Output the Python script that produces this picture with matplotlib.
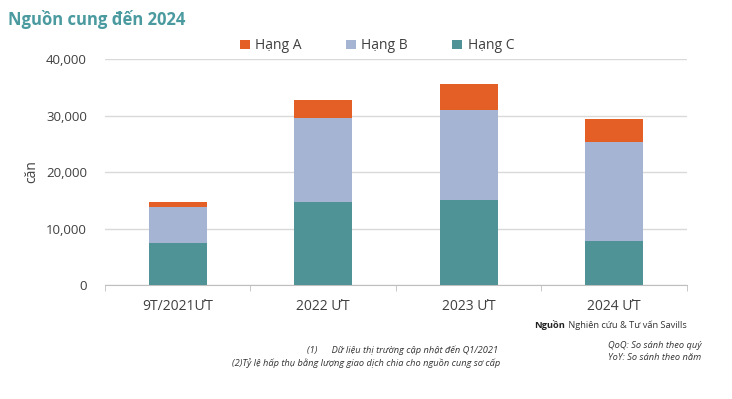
import matplotlib.pyplot as plt
import numpy as np

plt.rcParams['font.family'] = ['Open Sans', 'DejaVu Sans']

# data
categories = ["9T/2021ƯT", "2022 ƯT", "2023 ƯT", "2024 ƯT"]
hang_c = [7500, 14700, 15000, 7800]
hang_b = [6300, 14800, 15900, 17500]
hang_a = [900, 3200, 4600, 4100]
y_ticks = [0, 10000, 20000, 30000, 40000]

col_a = "#E35F26"
col_b = "#A4B4D2"
col_c = "#4F9396"
txt = "#404040"

fig = plt.figure(figsize=(7.32, 3.99), dpi=100)
ax = fig.add_axes([0.1434, 0.2857, 0.795, 0.5663])

x = np.arange(len(categories))
w = 0.4
c = np.array(hang_c)
b = np.array(hang_b)
a = np.array(hang_a)
ax.bar(x, c, w, color=col_c, label="Hạng C", zorder=3)
ax.bar(x, b, w, bottom=c, color=col_b, label="Hạng B", zorder=3)
ax.bar(x, a, w, bottom=c + b, color=col_a, label="Hạng A", zorder=3)

ax.set_xlim(-0.5, len(categories) - 0.5)
ax.set_ylim(0, 40000)
ax.set_yticks(y_ticks)
ax.set_yticklabels([f"{v:,}" for v in y_ticks], fontsize=9.5, color=txt)
ax.yaxis.grid(True, color="#D9D9D9", linewidth=1, zorder=0)
ax.tick_params(axis="y", length=0, pad=13)

# category labels between boundary ticks
ax.set_xticks(x)
ax.set_xticklabels(categories, fontsize=10, color=txt)
ax.tick_params(axis="x", length=0, pad=10)
ax.set_xticks(np.arange(-0.5, len(categories)), minor=True)
ax.tick_params(axis="x", which="minor", length=4, color="#BFBFBF")

for s in ["top", "right", "left"]:
    ax.spines[s].set_visible(False)
ax.spines["bottom"].set_color("#BFBFBF")

ax.set_ylabel("căn", fontsize=10, color=txt)
ax.yaxis.set_label_coords(-0.113, 0.5)

handles, labels = ax.get_legend_handles_labels()
order = [2, 1, 0]
fig.legend([handles[i] for i in order], [labels[i] for i in order],
           loc="center", bbox_to_anchor=(0.515, 0.885), ncol=3, frameon=False,
           fontsize=10, handlelength=0.7, handleheight=0.7, columnspacing=3.2,
           handletextpad=0.4, labelcolor=txt)

fig.text(0.011, 0.952, "Nguồn cung đến 2024", fontsize=12, fontweight="bold",
         color="#4A9A9F", va="center")

# footnotes
fig.text(0.772, 0.185, "Nguồn", fontsize=6.7, fontweight="bold", color="#222222",
         ha="right", va="center")
fig.text(0.773, 0.185, " Nghiên cứu & Tư vấn Savills", fontsize=6.7, color="#333333",
         ha="left", va="center")
fig.text(0.42, 0.123, "(1)      Dữ liệu thị trường cập nhật đến Q1/2021", fontsize=6.7,
         style="italic", color="#333333", va="center")
fig.text(0.317, 0.090, "(2)Tỷ lệ hấp thụ bằng lượng giao dịch chia cho nguồn cung sơ cấp",
         fontsize=6.7, style="italic", color="#333333", va="center")
fig.text(0.958, 0.135, "QoQ: So sánh theo quý", fontsize=6.7, style="italic",
         color="#333333", ha="right", va="center")
fig.text(0.958, 0.103, "YoY: So sánh theo năm", fontsize=6.7, style="italic",
         color="#333333", ha="right", va="center")

fig.savefig("out.png", dpi=100, facecolor="white")
